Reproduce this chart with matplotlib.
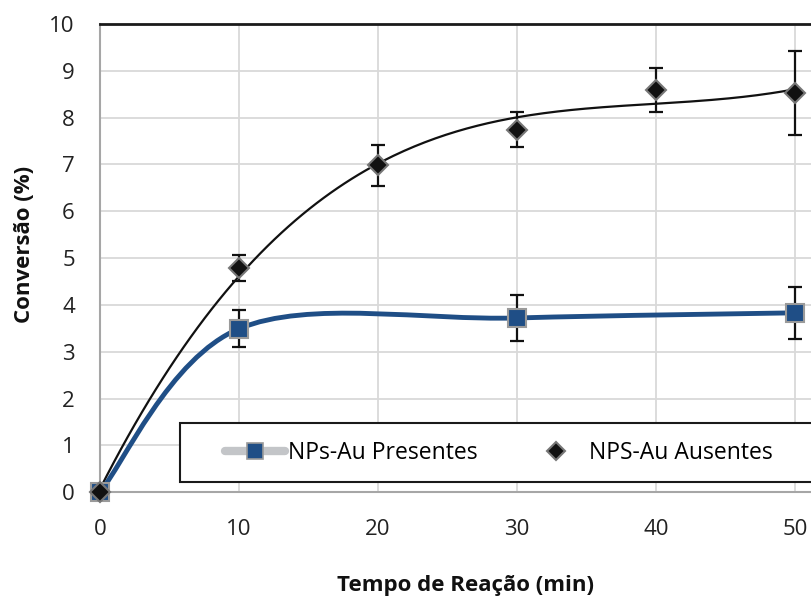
import numpy as np
import matplotlib
matplotlib.use("Agg")
import matplotlib.pyplot as plt
from matplotlib.path import Path
from matplotlib.patches import PathPatch, Rectangle
from matplotlib.lines import Line2D

plt.rcParams['font.family'] = ['Open Sans', 'DejaVu Sans']

# NPs-Au presentes
t_pres = [0, 10, 30, 50]
conv_pres = [0.0, 3.49, 3.72, 3.83]
err_pres = [0.0, 0.40, 0.50, 0.56]

# NPS-Au ausentes
t_aus = [0, 10, 20, 30, 40, 50]
conv_aus = [0.0, 4.78, 6.98, 7.74, 8.58, 8.52]
err_aus = [0.0, 0.28, 0.44, 0.37, 0.47, 0.90]

azul = '#1f4e86'


def suave(xs, ys):
    # curva suavizada tipo Excel (Bezier com tangentes de Catmull-Rom)
    p = np.column_stack([xs, ys]).astype(float)
    n = len(p)
    verts = [p[0]]
    codes = [Path.MOVETO]
    for i in range(n - 1):
        a = p[i - 1] if i > 0 else p[i]
        d = p[i + 2] if i + 2 < n else p[i + 1]
        c1 = p[i] + (p[i + 1] - a) / 6
        c2 = p[i + 1] - (d - p[i]) / 6
        verts += [c1, c2, p[i + 1]]
        codes += [Path.CURVE4] * 3
    return Path(verts, codes)


fig = plt.figure(figsize=(8.12, 5.98), dpi=100)
ax = fig.add_axes([0.123, 0.177, 0.877, 0.783])
ax.set_xlim(0, 51.2)
ax.set_ylim(0, 10)

ax.grid(True, color='#d9d9d9', lw=1.3)
ax.set_axisbelow(True)
ax.set_xticks([0, 10, 20, 30, 40, 50])
ax.set_yticks(range(11))
ax.tick_params(length=0, labelsize=16, colors='#222222')
ax.tick_params(axis='x', pad=19)
ax.tick_params(axis='y', pad=18)
for s in ['left', 'bottom']:
    ax.spines[s].set_color('#a6a6a6')
    ax.spines[s].set_linewidth(1.5)
ax.spines['top'].set_color('#1a1a1a')
ax.spines['top'].set_linewidth(2)
ax.spines['right'].set_visible(False)

# linha de tendencia (polinomio) para ausentes
coef = np.polyfit(t_aus, conv_aus, 3)
xx = np.linspace(0, 50, 200)
ax.plot(xx, np.polyval(coef, xx), color='#111111', lw=1.6, zorder=3)

ax.add_patch(PathPatch(suave(t_pres, conv_pres), facecolor='none',
                       edgecolor=azul, lw=3.5, zorder=3))

ax.errorbar(t_aus[1:], conv_aus[1:], yerr=err_aus[1:], fmt='none',
            ecolor='#111111', elinewidth=1.6, capsize=5, capthick=1.6, zorder=4)
ax.errorbar(t_pres[1:], conv_pres[1:], yerr=err_pres[1:], fmt='none',
            ecolor='#111111', elinewidth=1.6, capsize=5, capthick=1.6, zorder=4)

ax.plot(t_pres, conv_pres, ls='none', marker='s', ms=13, mfc=azul,
        mec='#9a9a9a', mew=1.5, zorder=5, clip_on=False)
ax.plot(t_aus, conv_aus, ls='none', marker='D', ms=10, mfc='#111111',
        mec='#777777', mew=1.5, zorder=6, clip_on=False)

ax.add_patch(Rectangle((0.112, 0.021), 1.0, 0.126, transform=ax.transAxes,
                       facecolor='white', edgecolor='#1a1a1a', lw=1.5,
                       zorder=7, clip_on=False))
h1 = Line2D([], [], color='#c3c5c8', lw=6, solid_capstyle='round', marker='s',
            ms=12, mfc=azul, mec='#9a9a9a', mew=1.2)
h2 = Line2D([], [], ls='none', marker='D', ms=9, mfc='#111111', mec='#777777',
            mew=1.5)
leg = ax.legend([h1, h2], ['NPs-Au Presentes', 'NPS-Au Ausentes'], ncol=2,
                loc='center left', bbox_to_anchor=(0.147, 0.084), frameon=False,
                fontsize=16.5, handlelength=2.6, handletextpad=0.15,
                columnspacing=2.1)
leg.set_zorder(8)

ax.set_xlabel('Tempo de Reação (min)', fontsize=16, fontweight='bold',
              color='#111111')
ax.xaxis.set_label_coords(0.513, -0.178)
ax.set_ylabel('Conversão (%)', fontsize=16, fontweight='bold',
              color='#111111')
ax.yaxis.set_label_coords(-0.091, 0.53)

fig.savefig('out.png', dpi=100)
